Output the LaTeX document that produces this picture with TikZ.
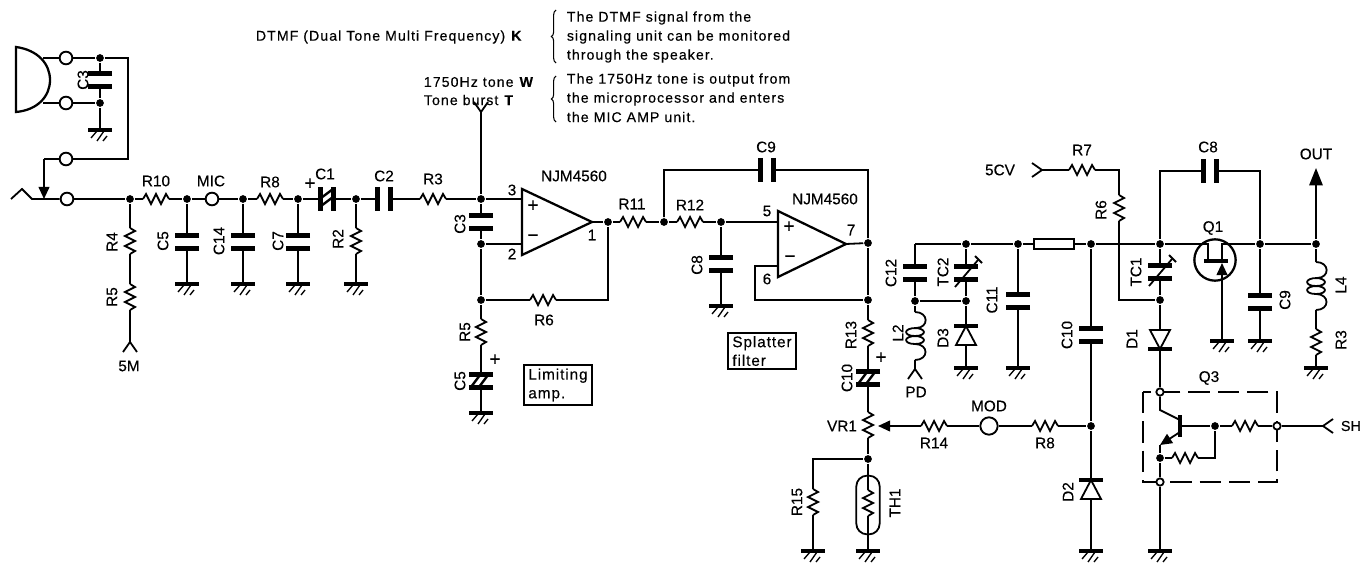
\documentclass[tikz,border=0pt]{standalone}
\usepackage{fontspec}
\setmainfont{Liberation Sans}
\newfontfamily\lblfont[FakeBold=0.35]{Liberation Sans}
\usetikzlibrary{arrows.meta,decorations.pathreplacing}
\tikzset{
  plate/.style={line width=3.2pt},
  bigtip/.style={-{Triangle[length=9pt,width=8pt]}},
  lbl/.style={inner sep=0pt,font=\lblfont\fontsize{11.5pt}{13pt}\selectfont},
  rlbl/.style={lbl,rotate=90},
  note/.style={inner sep=0pt,anchor=west,font=\lblfont\fontsize{10.6pt}{12pt}\selectfont\addfontfeature{LetterSpace=7.5}},
  jdot/.style={circle,fill=black,inner sep=0pt,minimum size=5.8pt},
  oterm/.style={circle,draw,line width=1.4pt,fill=white,inner sep=0pt,minimum size=9.5pt},
  sterm/.style={circle,draw,fill=white,inner sep=0pt,minimum size=5.5pt},
  infobox/.style={draw,line width=1.3pt,inner sep=2.5pt,align=left,minimum width=51pt,font=\lblfont\fontsize{11.5pt}{14pt}\selectfont\addfontfeature{LetterSpace=6}},
  resistor/.pic={\draw (-13,0) coordinate (-a) -- (-10,-5) -- (-5,5) -- (0,-5) -- (5,5) -- (10,-5) -- (13,0) coordinate (-b);},
  capacitor/.pic={
    \draw[plate] (-6.5,-12) -- (-6.5,12);
    \draw[plate] (6.5,-12) -- (6.5,12);
    \coordinate (-a) at (-6.5,0);
    \coordinate (-b) at (6.5,0);},
  polcap/.pic={
    \draw[plate] (-6.5,-12) -- (-6.5,12);
    \draw[plate] (6.5,-12) -- (6.5,12);
    \draw[line width=1.8pt] (6,2) -- (-6,-7) (6,10) -- (-6,1);
    \coordinate (-a) at (-6.5,0);
    \coordinate (-b) at (6.5,0);},
  varcap/.pic={
    \draw[plate] (-6.5,-12) -- (-6.5,12);
    \draw[plate] (6.5,-12) -- (6.5,12);
    \draw (14,11) -- (-13,-12);
    \draw (-17,-9) -- (-10,-16);
    \coordinate (-a) at (-6.5,0);
    \coordinate (-b) at (6.5,0);},
  earth/.pic={
    \draw[line width=2.3pt] (-12,0) -- (12,0);
    \draw[line width=1pt] (-9,8) -- (-3,1) (-3,11) -- (4,1) (3,11) -- (7,6);
    \coordinate (-a) at (0,0);},
  fork/.pic={\draw (10,-7) -- (0,0) coordinate (-a) -- (10,7);},
  inductor/.pic={
    \draw (0,0) coordinate (-a) .. controls (14,0) and (14,16) .. (1,16)
      .. controls (-12,16) and (-12,24) .. (0,24)
      .. controls (12,24) and (12,16) .. (-1,16)
      (1,24) .. controls (-12,24) and (-12,32) .. (0,32)
      .. controls (12,32) and (12,24) .. (-1,24)
      (0,32) .. controls (14,32) and (14,48) .. (0,48) coordinate (-b);},
  diode/.pic={
    \draw[fill=white] (0,-10) -- (-10,9) -- (10,9) -- cycle;
    \draw[plate] (-12,-10) -- (12,-10);
    \coordinate (-a) at (0,-10);
    \coordinate (-b) at (0,9);}
}
\begin{document}
\begin{tikzpicture}[x=0.75pt,y=-0.75pt,line width=1.35pt]
  \useasboundingbox (0,0) rectangle (1360,563);
  % Microphone
  \draw[line width=1.7pt] (16,47) .. controls (38,50) and (50,64) .. (50,80) .. controls (50,96) and (38,110) .. (16,112) -- cycle;
  \coordinate (micA) at (43,58);
  \coordinate (micB) at (43,103);
  \node[oterm] (tA) at (66,58) {};
  \node[oterm] (tB) at (66,103) {};
  \node[oterm] (tC) at (66,159) {};
  \node[oterm] (tD) at (67,199) {};
  \node[jdot] (d1) at (100,58) {};
  \node[jdot] (d2) at (100,103) {};
  \pic[rotate=-90] (mC3) at (100,80) {capacitor};
  \pic (g1) at (100,130) {earth};
  \coordinate (cnA) at (128,58);
  \coordinate (cnB) at (128,159);
  \coordinate (jkA) at (44,159);
  \coordinate (jkB) at (44,199);
  \coordinate (tailA) at (11,199);
  \coordinate (tailB) at (22,189);
  \coordinate (tailC) at (32,199);
  \draw (micA) -- (tA) -- (d1) -- (cnA) -- (cnB) -- (tC) -- (jkA);
  \draw[bigtip] (jkA) -- (jkB);
  \draw (micB) -- (tB) -- (d2) -- (g1-a);
  \draw (d1) -- (mC3-a) (mC3-b) -- (d2);
  \draw (tailA) -- (tailB) -- (tailC) -- (tD);
  % Input line
  \node[jdot] (d3) at (130,199) {};
  \pic (R10) at (156,199) {resistor};
  \node[jdot] (d4) at (187,199) {};
  \node[oterm] (tMIC) at (212,199) {};
  \node[jdot] (d5) at (243,199) {};
  \pic (mR8) at (270,199) {resistor};
  \node[jdot] (d6) at (298,199) {};
  \pic[yscale=-1] (C1) at (327,199) {polcap};
  \node[jdot] (d7) at (356,199) {};
  \pic (C2) at (384,199) {capacitor};
  \pic (mR3) at (433,199) {resistor};
  \node[jdot] (d8) at (481,199) {};
  \draw (tD) -- (d3) -- (R10-a) (R10-b) -- (d4) -- (tMIC) -- (d5) -- (mR8-a) (mR8-b) -- (d6) -- (C1-a) (C1-b) -- (d7) -- (C2-a) (C2-b) -- (mR3-a) (mR3-b) -- (d8);
  % Parts below the input line
  \pic[rotate=-90] (R4) at (130,241) {resistor};
  \pic[rotate=-90] (mR5) at (130,297) {resistor};
  \pic[rotate=-90] (f5M) at (130,342) {fork};
  \draw (d3) -- (R4-a) (R4-b) -- (mR5-a) (mR5-b) -- (f5M-a);
  \pic[rotate=-90] (mC5) at (187,242) {capacitor};
  \pic (g2) at (187,284) {earth};
  \draw (d4) -- (mC5-a) (mC5-b) -- (g2-a);
  \pic[rotate=-90] (C14) at (243,242) {capacitor};
  \pic (g3) at (243,284) {earth};
  \draw (d5) -- (C14-a) (C14-b) -- (g3-a);
  \pic[rotate=-90] (C7) at (298,242) {capacitor};
  \pic (g4) at (298,284) {earth};
  \draw (d6) -- (C7-a) (C7-b) -- (g4-a);
  \pic[rotate=-90] (R2) at (356,241) {resistor};
  \pic (g5) at (356,284) {earth};
  \draw (d7) -- (R2-a) (R2-b) -- (g5-a);
  % Limiting amp
  \coordinate (ampAa) at (522,189);
  \coordinate (ampAb) at (522,255);
  \coordinate (ampAo) at (592,222);
  \coordinate (ampAp) at (522,199);
  \coordinate (ampAm) at (522,244);
  \draw[line width=1.7pt] (ampAa) -- (ampAb) -- (ampAo) -- cycle;
  \node[lbl] (ampAplus) at (533,206) {\Large +};
  \node[lbl] (ampAminus) at (533,238) {\Large −};
  \pic[rotate=90] (fW) at (481,112) {fork};
  \pic[rotate=-90] (aC3) at (481,222) {capacitor};
  \node[jdot] (d9) at (481,244) {};
  \node[jdot] (d10) at (481,300) {};
  \pic (aR6) at (543,300) {resistor};
  \node[jdot] (d11) at (608,222) {};
  \coordinate (fbA) at (608,300);
  \pic[rotate=-90] (aR5) at (481,332) {resistor};
  \pic[rotate=-90] (aC5) at (481,381) {polcap};
  \pic (g6) at (481,413) {earth};
  \draw (fW-a) -- (d8) -- (ampAp) (d8) -- (aC3-a) (aC3-b) -- (d9) -- (ampAm) (d9) -- (d10) -- (aR6-a) (aR6-b) -- (fbA) -- (d11) -- (ampAo);
  \draw (d10) -- (aR5-a) (aR5-b) -- (aC5-a) (aC5-b) -- (g6-a);
  \node[infobox] (lim) at (558,385) {Limiting\\amp.};
  % Splatter filter
  \coordinate (ampBa) at (778,211);
  \coordinate (ampBb) at (778,277);
  \coordinate (ampBo) at (846,244);
  \coordinate (ampBp) at (778,222);
  \coordinate (ampBm) at (778,266);
  \draw[line width=1.7pt] (ampBa) -- (ampBb) -- (ampBo) -- cycle;
  \node[lbl] (ampBplus) at (789,227) {\Large +};
  \node[lbl] (ampBminus) at (790,259) {\Large −};
  \pic (R11) at (633,222) {resistor};
  \node[jdot] (d12) at (664,222) {};
  \pic (R12) at (690,222) {resistor};
  \node[jdot] (d13) at (721,222) {};
  \pic[rotate=-90] (fC8) at (721,264) {capacitor};
  \pic (g7) at (721,306) {earth};
  \coordinate (topA) at (664,170);
  \coordinate (topB) at (868,170);
  \pic (fC9) at (767,170) {capacitor};
  \node[jdot] (d14) at (868,243) {};
  \node[jdot] (d15) at (868,300) {};
  \coordinate (fbB) at (755,266);
  \coordinate (fbC) at (755,300);
  \draw (d11) -- (R11-a) (R11-b) -- (d12) -- (R12-a) (R12-b) -- (d13) -- (ampBp);
  \draw (d13) -- (fC8-a) (fC8-b) -- (g7-a);
  \draw (d12) -- (topA) -- (fC9-a) (fC9-b) -- (topB) -- (d14) -- (ampBo);
  \draw (d14) -- (d15) -- (fbC) -- (fbB) -- (ampBm);
  \node[infobox] (spl) at (762,351) {Splatter\\filter};
  % Modulation path
  \pic[rotate=-90] (R13) at (868,333) {resistor};
  \pic[rotate=-90] (fC10) at (868,378) {polcap};
  \pic[rotate=-90] (VR1) at (868,425) {resistor};
  \node[jdot] (d16) at (868,459) {};
  \coordinate (thL) at (813,459);
  \pic[rotate=-90] (R15) at (813,502) {resistor};
  \pic (g8) at (813,551) {earth};
  \pic[rotate=-90] (TH1) at (868,503) {resistor};
  \pic (g9) at (868,551) {earth};
  \node[draw,rounded corners=8pt,minimum width=17.5pt,minimum height=44pt,inner sep=0pt] (thOval) at (868,505) {};
  \draw (d15) -- (R13-a) (R13-b) -- (fC10-a) (fC10-b) -- (VR1-a) (VR1-b) -- (d16) -- (thL) -- (R15-a) (R15-b) -- (g8-a);
  \draw (d16) -- (TH1-a) (TH1-b) -- (g9-a);
  \coordinate (vrTip) at (878,426);
  \pic (R14) at (934,426) {resistor};
  \node[oterm,minimum size=13pt] (tMOD) at (989,426) {};
  \pic (tR8) at (1045,426) {resistor};
  \node[jdot] (d17) at (1091,426) {};
  \draw[bigtip] (R14-a) -- (vrTip);
  \draw (R14-b) -- (tMOD) -- (tR8-a) (tR8-b) -- (d17);
  \pic (D2) at (1091,490) {diode};
  \pic (g16) at (1091,551) {earth};
  \draw (d17) -- (D2-a) (D2-b) -- (g16-a);
  % Tank and rail
  \coordinate (railA) at (915,244);
  \node[jdot] (d18) at (966,244) {};
  \node[jdot] (d19) at (1018,244) {};
  \node[draw,fill=white,minimum width=30pt,minimum height=8pt,inner sep=0pt] (rbox) at (1054,244) {};
  \node[jdot] (d20) at (1091,244) {};
  \node[jdot] (d21) at (1160,244) {};
  \node[jdot] (d22) at (1260,244) {};
  \node[jdot] (d23) at (1316,244) {};
  \pic[rotate=-90] (C12) at (915,273) {capacitor};
  \node[jdot] (d24) at (915,301) {};
  \node[jdot] (d25) at (966,301) {};
  \pic[rotate=-90] (TC2) at (966,273) {varcap};
  \pic (L2) at (915,312) {inductor};
  \pic[rotate=-90] (fPD) at (915,369) {fork};
  \pic[rotate=-90] (C11) at (1018,301) {capacitor};
  \pic (g10) at (966,368) {earth};
  \pic (g11) at (1018,368) {earth};
  \pic (D3) at (966,336) {diode};
  \pic[rotate=-90] (tC10) at (1091,335) {capacitor};
  \draw (railA) -- (C12-a) (C12-b) -- (d24) -- (d25) -- (TC2-b) (TC2-a) -- (d18) -- (railA);
  \draw (d18) -- (d19) -- (rbox) -- (d20) -- (d21);
  \draw (d19) -- (C11-a) (C11-b) -- (g11-a);
  \draw (d24) -- (L2-a) (L2-b) -- (fPD-a);
  \draw (d25) -- (D3-a) (D3-b) -- (g10-a);
  \draw (d20) -- (tC10-a) (tC10-b) -- (d17);
  % 5CV feed, Q1 and output
  \pic[rotate=180] (f5CV) at (1042,170) {fork};
  \pic (R7) at (1082,170) {resistor};
  \coordinate (cvA) at (1119,170);
  \pic[rotate=-90] (tR6) at (1119,208) {resistor};
  \coordinate (cvB) at (1119,300);
  \node[jdot] (d26) at (1160,300) {};
  \pic[rotate=-90] (TC1) at (1160,272) {varcap};
  \draw (f5CV-a) -- (R7-a) (R7-b) -- (cvA) -- (tR6-a) (tR6-b) -- (cvB) -- (d26);
  \draw (d21) -- (TC1-a) (TC1-b) -- (d26);
  \coordinate (topC) at (1160,171);
  \coordinate (topD) at (1260,171);
  \pic (tC8) at (1210,171) {capacitor};
  \draw (d21) -- (topC) -- (tC8-a) (tC8-b) -- (topD) -- (d22);
  \node[draw,circle,line width=1.7pt,minimum size=31pt,inner sep=0pt] (Q1) at (1215,260) {};
  \coordinate (qS) at (1208,244);
  \coordinate (qSb) at (1208,259);
  \coordinate (qD) at (1222,244);
  \coordinate (qDb) at (1222,259);
  \coordinate (qGa) at (1204,261);
  \coordinate (qGb) at (1228,261);
  \coordinate (qG) at (1222,263);
  \coordinate (qF) at (1222,281);
  \pic (g12) at (1222,341) {earth};
  \draw (d21) -- (qS) -- (qSb);
  \draw (d22) -- (qD) -- (qDb);
  \draw[line width=2.3pt] (qGa) -- (qGb);
  \draw[bigtip] (qF) -- (qG);
  \draw (qF) -- (g12-a);
  \pic[rotate=-90] (tC9) at (1260,302) {capacitor};
  \pic (g13) at (1260,341) {earth};
  \draw (d22) -- (tC9-a) (tC9-b) -- (g13-a);
  \coordinate (oTip) at (1316,168);
  \pic (L4) at (1316,262) {inductor};
  \pic[rotate=-90] (tR3) at (1316,342) {resistor};
  \pic (g14) at (1316,368) {earth};
  \draw[-{Triangle[length=13pt,width=10pt]}] (d23) -- (oTip);
  \draw (d22) -- (d23) -- (L4-a) (L4-b) -- (tR3-a) (tR3-b) -- (g14-a);
  % D1, Q3
  \coordinate (dOneA) at (1160,349);
  \coordinate (dOneB) at (1160,330);
  \draw (d26) -- (dOneB);
  \draw[fill=white] (1150,330) -- (1170,330) -- (dOneA) -- cycle;
  \draw[plate] (1148,349) -- (1172,349);
  \draw[line width=1.9pt,dash pattern=on 16pt off 6pt] (1143,392) rectangle (1277,482);
  \node[sterm] (tE) at (1160,392) {};
  \node[sterm] (tF) at (1160,482) {};
  \node[sterm] (tG) at (1277,426) {};
  \draw (dOneA) -- (tE);
  \coordinate (qC) at (1160,410);
  \coordinate (qCb) at (1180,420);
  \coordinate (qBa) at (1180,415);
  \coordinate (qBb) at (1180,437);
  \coordinate (qB) at (1180,426);
  \coordinate (qEa) at (1180,432);
  \coordinate (qEb) at (1160,445);
  \draw (tE) -- (qC) -- (qCb);
  \draw[line width=2.6pt] (qBa) -- (qBb);
  \draw[bigtip] (qEa) -- (qEb);
  \node[jdot] (d27) at (1160,458) {};
  \node[jdot] (d28) at (1215,426) {};
  \pic (qRa) at (1245,426) {resistor};
  \pic (qRb) at (1185,458) {resistor};
  \coordinate (qRc) at (1215,458);
  \pic (fSH) at (1323,426) {fork};
  \pic (g15) at (1160,551) {earth};
  \draw (qEb) -- (d27) -- (tF) -- (g15-a);
  \draw (qB) -- (d28) -- (qRa-a) (qRa-b) -- (tG) -- (fSH-a);
  \draw (d27) -- (qRb-a) (qRb-b) -- (qRc) -- (d28);
  % Labels
  \node[lbl] (lR10) at (156,181) {R10};
  \node[lbl] (lMIC) at (211,181) {MIC};
  \node[lbl] (lR8) at (270,182) {R8};
  \node[lbl] (lC1) at (325,174) {C1};
  \node[lbl] (lplusA) at (310,184) {\Large +};
  \node[lbl] (lC2) at (384,176) {C2};
  \node[lbl] (lR3) at (433,179) {R3};
  \node[lbl] (l5M) at (129,366) {5M};
  \node[rlbl] (lC3) at (83,80) {C3};
  \node[rlbl] (lR4) at (112,242) {R4};
  \node[rlbl] (lR5) at (112,297) {R5};
  \node[rlbl] (lC5) at (163,241) {C5};
  \node[rlbl] (lC14) at (219,241) {C14};
  \node[rlbl] (lC7) at (278,241) {C7};
  \node[rlbl] (lR2) at (338,239) {R2};
  \node[rlbl] (laC3) at (460,224) {C3};
  \node[lbl] (lNJa) at (574,176) {NJM4560};
  \node[lbl] (lthree) at (512,190) {3};
  \node[lbl] (ltwo) at (512,254) {2};
  \node[lbl] (lone) at (592,235) {1};
  \node[lbl] (lR11) at (632,204) {R11};
  \node[lbl] (lR12) at (690,205) {R12};
  \node[lbl] (lfive) at (767,211) {5};
  \node[lbl] (lNJb) at (825,199) {NJM4560};
  \node[lbl] (lC9) at (766,147) {C9};
  \node[lbl] (lseven) at (851,230) {7};
  \node[lbl] (lsix) at (767,279) {6};
  \node[rlbl] (lfC8) at (697,265) {C8};
  \node[lbl] (laR6) at (544,320) {R6};
  \node[rlbl] (laR5) at (465,332) {R5};
  \node[rlbl] (laC5) at (460,381) {C5};
  \node[lbl] (lplusB) at (495,360) {\Large +};
  \node[rlbl] (lR13) at (851,335) {R13};
  \node[rlbl] (lfC10) at (847,378) {C10};
  \node[lbl] (lplusC) at (881,358) {\Large +};
  \node[rlbl] (lL2) at (898,333) {L2};
  \node[rlbl] (lC12) at (891,273) {C12};
  \node[lbl] (lR7) at (1082,150) {R7};
  \node[lbl] (l5CV) at (1000,170) {5CV};
  \node[rlbl] (ltR6) at (1101,210) {R6};
  \node[lbl] (ltC8) at (1208,147) {C8};
  \node[lbl] (lOUT) at (1316,154) {OUT};
  \node[lbl] (lQ1) at (1213,228) {Q1};
  \node[rlbl] (lTC2) at (943,272) {TC2};
  \node[rlbl] (lC11) at (992,300) {C11};
  \node[rlbl] (ltC10) at (1067,335) {C10};
  \node[rlbl] (lTC1) at (1136,272) {TC1};
  \node[rlbl] (lD1) at (1132,339) {D1};
  \node[rlbl] (lD3) at (943,338) {D3};
  \node[rlbl] (lL4) at (1341,285) {L4};
  \node[rlbl] (ltR3) at (1341,340) {R3};
  \node[rlbl] (ltC9) at (1285,300) {C9};
  \node[lbl] (lPD) at (916,392) {PD};
  \node[lbl] (lVR1) at (842,426) {VR1};
  \node[lbl] (lR14) at (934,443) {R14};
  \node[lbl] (lMOD) at (989,406) {MOD};
  \node[lbl] (ltR8) at (1045,443) {R8};
  \node[rlbl] (lR15) at (797,502) {R15};
  \node[rlbl] (lTH1) at (895,503) {TH1};
  \node[rlbl] (lD2) at (1068,492) {D2};
  \node[lbl] (lQ3) at (1209,378) {Q3};
  \node[lbl,anchor=west,font=\lblfont\fontsize{10.8pt}{13pt}\selectfont] (lSH) at (1340,426) {SH};
  % Notes
  \node[note] (nDTMF) at (255,37) {DTMF (Dual Tone Multi Frequency) \textbf{K}};
  \node[note] (nW) at (423,82) {1750Hz tone \textbf{W}};
  \node[note] (nT) at (423,100) {Tone burst \textbf{T}};
  \draw[decorate,decoration={brace,amplitude=3.5pt},line width=.8pt] (556,63) -- (556,10);
  \draw[decorate,decoration={brace,amplitude=3.5pt},line width=.8pt] (556,122) -- (556,76);
  \node[note] (nA) at (566,18) {The DTMF signal from the};
  \node[note] (nB) at (566,37) {signaling unit can be monitored};
  \node[note] (nC) at (566,56) {through the speaker.};
  \node[note] (nD) at (566,80) {The 1750Hz tone is output from};
  \node[note] (nE) at (566,99) {the microprocessor and enters};
  \node[note] (nF) at (566,117) {the MIC AMP unit.};
\end{tikzpicture}
\end{document}
